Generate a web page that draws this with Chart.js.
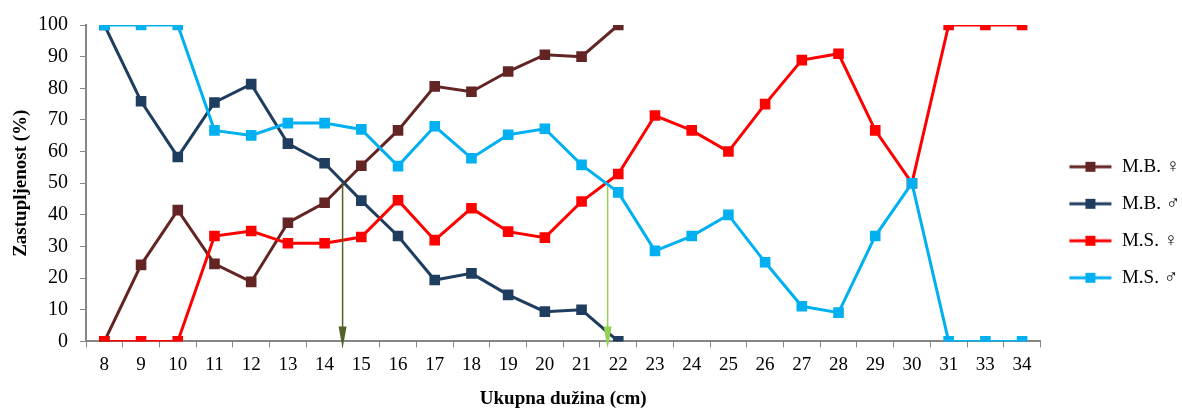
<!DOCTYPE html>
<html>
<head>
<meta charset="utf-8">
<script src="https://cdn.jsdelivr.net/npm/chart.js@4"></script>
<style>
  body { margin: 0; background: #fff; }
  #wrap { width: 1182px; height: 410px; }
</style>
</head>
<body>
<div id="wrap"><canvas id="grafico" width="1182" height="410"></canvas></div>
<script>
const duzine = ["8","9","10","11","12","13","14","15","16","17","18","19","20","21","22","23","24","25","26","27","28","29","30","31","33","34"];

const mbZenke = [0, 24.2, 41.5, 24.5, 18.8, 37.5, 43.8, 55.5, 66.7, 80.6, 78.9, 85.3, 90.6, 90.0, 100,
  null, null, null, null, null, null, null, null, null, null, null];
const mbMuzjaci = [100, 75.9, 58.3, 75.5, 81.3, 62.5, 56.3, 44.5, 33.3, 19.4, 21.5, 14.7, 9.4, 10.0, 0,
  null, null, null, null, null, null, null, null, null, null, null];
const msZenke = [0, 0, 0, 33.3, 34.9, 31.0, 31.0, 33.0, 44.6, 32.0, 42.1, 34.7, 32.8, 44.2, 52.9,
  71.4, 66.7, 60.0, 75.0, 88.9, 90.9, 66.7, 50.0, 100, 100, 100];
const msMuzjaci = [100, 100, 100, 66.7, 65.1, 69.0, 69.0, 67.0, 55.4, 68.0, 57.9, 65.3, 67.2, 55.8, 47.1,
  28.6, 33.3, 40.0, 25.0, 11.1, 9.1, 33.3, 50.0, 0, 0, 0];

const yTicks = [0, 10, 20, 30, 40, 50, 60, 70, 80, 90, 100];

// strelice: polozaj na x osi (indeks kategorije) i vrh na y osi
const strelicaX = [6.49, 13.71];
const strelicaVrh = [50, 49];
const strelicaBoje = ["#4F6228", "#92D050"];

const serif = "'Liberation Serif', 'Times New Roman', 'DejaVu Serif', serif";

// znak u legendi: linija s kvadratom (lijevo malo praznog mjesta)
const MARGINA = 10;
function znakLegende(boja) {
  const c = document.createElement("canvas");
  c.width = 44 + MARGINA;
  c.height = 12;
  const g = c.getContext("2d");
  g.strokeStyle = boja;
  g.lineWidth = 3;
  g.beginPath();
  g.moveTo(MARGINA + 1, 6);
  g.lineTo(MARGINA + 43, 6);
  g.stroke();
  g.fillStyle = boja;
  g.fillRect(MARGINA + 17, 1, 10, 10);
  return c;
}

function serija(label, data, boja, red) {
  return {
    label: label,
    data: data,
    borderColor: boja,
    backgroundColor: boja,
    borderWidth: 3,
    pointStyle: "rect",
    pointRadius: 7.5,
    pointHoverRadius: 7.5,
    pointBorderWidth: 0,
    tension: 0,
    spanGaps: false,
    order: red
  };
}

const strelice = {
  id: "strelice",
  afterDatasetsDraw(chart) {
    const ctx = chart.ctx;
    const x = chart.scales.x;
    const y = chart.scales.y;
    const dno = y.getPixelForValue(0);
    strelicaX.forEach((v, i) => {
      const px = x.getPixelForValue(v);
      const vrh = y.getPixelForValue(strelicaVrh[i]);
      const tip = dno + 7;
      ctx.save();
      ctx.strokeStyle = strelicaBoje[i];
      ctx.fillStyle = strelicaBoje[i];
      ctx.lineWidth = 1.5;
      ctx.beginPath();
      ctx.moveTo(px, vrh);
      ctx.lineTo(px, tip - 18);
      ctx.stroke();
      ctx.beginPath();
      ctx.moveTo(px - 4, tip - 22);
      ctx.lineTo(px + 4, tip - 22);
      ctx.lineTo(px, tip);
      ctx.closePath();
      ctx.fill();
      ctx.restore();
    });
  }
};

new Chart(document.getElementById("grafico").getContext("2d"), {
  type: "line",
  data: {
    labels: duzine,
    datasets: [
      serija("M.B. ♀", mbZenke, "#632523", 4),
      serija("M.B. ♂", mbMuzjaci, "#1F3D5E", 3),
      serija("M.S. ♀", msZenke, "#FF0000", 2),
      serija("M.S. ♂", msMuzjaci, "#00B0F0", 1)
    ]
  },
  options: {
    responsive: false,
    animation: false,
    layout: { padding: { top: 25, left: 10, right: -8, bottom: 0 } },
    plugins: {
      tooltip: { enabled: false },
      legend: {
        position: "right",
        title: { display: true, text: "", color: "#000", font: { size: 8 }, padding: 0 },
        labels: {
          color: "#000",
          font: { family: serif, size: 19 },
          usePointStyle: true,
          pointStyleWidth: 44 + MARGINA,
          boxHeight: 12,
          padding: 18,
          generateLabels(chart) {
            return chart.data.datasets.map((ds, i) => ({
              text: ds.label,
              fontColor: "#000",
              pointStyle: znakLegende(ds.borderColor),
              fillStyle: ds.borderColor,
              strokeStyle: ds.borderColor,
              lineWidth: 0,
              hidden: false,
              datasetIndex: i
            }));
          }
        }
      }
    },
    scales: {
      x: {
        offset: true,
        grid: {
          offset: true,
          drawOnChartArea: false,
          drawTicks: true,
          tickLength: 6,
          color: "#868686"
        },
        border: { color: "#868686", width: 2 },
        ticks: {
          color: "#000",
          font: { family: serif, size: 19 },
          autoSkip: false,
          maxRotation: 0,
          padding: 6
        },
        title: {
          display: true,
          text: "Ukupna dužina (cm)",
          color: "#000",
          font: { family: serif, size: 19, weight: "bold" },
          padding: { top: 5, bottom: 0 }
        }
      },
      y: {
        min: 0,
        max: 100,
        afterBuildTicks(axis) {
          axis.ticks = yTicks.map(v => ({ value: v }));
        },
        afterFit(axis) {
          axis.width = 76;
        },
        grid: {
          drawOnChartArea: false,
          drawTicks: true,
          tickLength: 6,
          color: "#868686"
        },
        border: { color: "#868686", width: 2 },
        ticks: {
          color: "#000",
          font: { family: serif, size: 20 },
          padding: 12
        },
        title: {
          display: true,
          text: "Zastupljenost (%)",
          color: "#000",
          font: { family: serif, size: 19, weight: "bold" },
          padding: { top: 0, bottom: 0 }
        }
      }
    }
  },
  plugins: [strelice]
});
</script>
</body>
</html>
